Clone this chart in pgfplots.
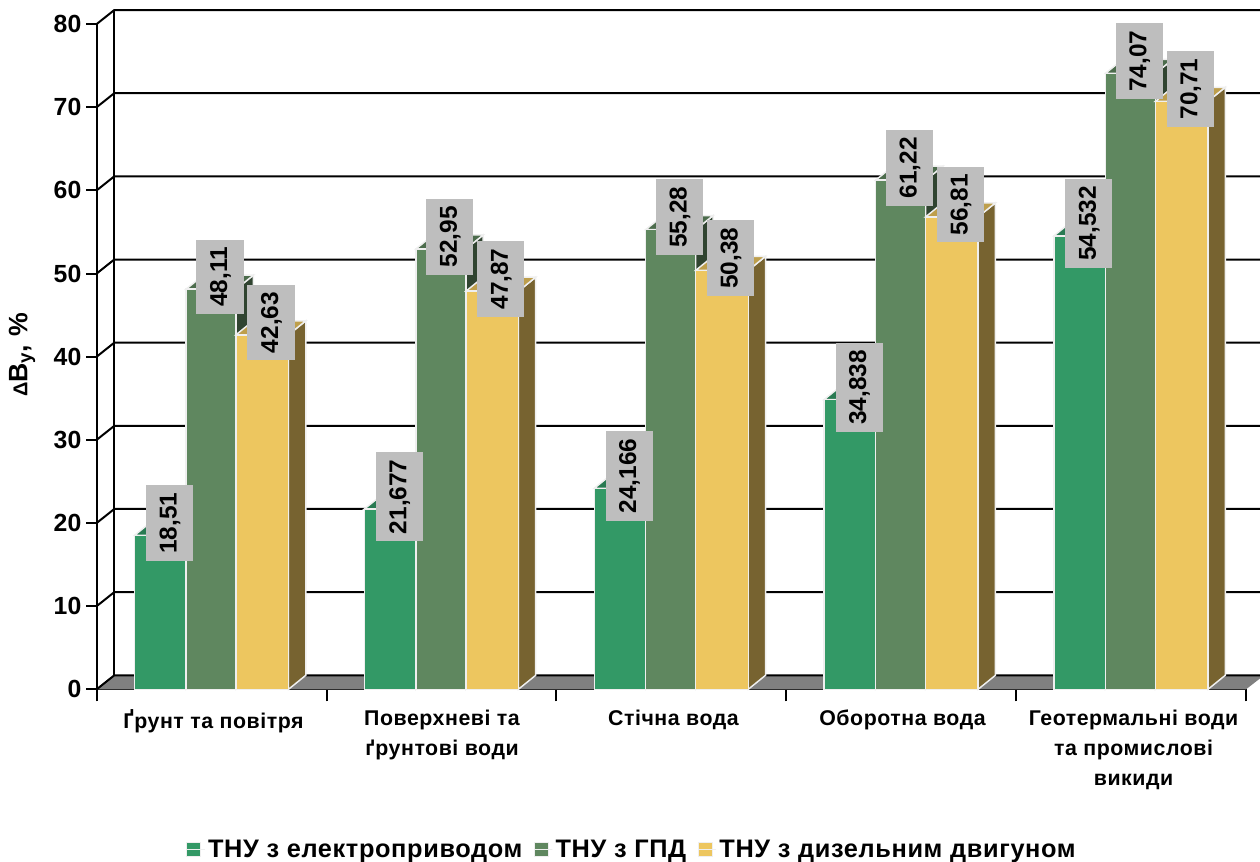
\documentclass[border=0pt]{standalone}
\usepackage{fontspec}
\usepackage{pgfplots}
\pgfplotsset{compat=1.18}
\setmainfont{Liberation Sans}
\newfontfamily\lsfont{Liberation Sans}[LetterSpace=2.5]
\definecolor{cA}{HTML}{339966}\definecolor{cAt}{HTML}{297A52}\definecolor{cAs}{HTML}{1A4D33}
\definecolor{cB}{HTML}{5F875F}\definecolor{cBt}{HTML}{4C6C4C}\definecolor{cBs}{HTML}{304430}
\definecolor{cC}{HTML}{EDC65F}\definecolor{cCt}{HTML}{BE9F4C}\definecolor{cCs}{HTML}{776330}
\definecolor{edge}{HTML}{EFEFEF}\definecolor{boxg}{HTML}{BEBEBE}\definecolor{floorg}{HTML}{808080}
% x left, x right, value, top colour, side colour
\newcommand\barfaces[5]{%
  \pgfmathsetmacro\xa{#1+17.3}\pgfmathsetmacro\xb{#2+17.3}\pgfmathsetmacro\vb{#3+1.684}%
  \addplot[fill=#5,draw=edge,line width=1.1pt,forget plot] coordinates {(#2,0)(\xb,1.684)(\xb,\vb)(#2,#3)} -- cycle;
  \addplot[fill=#4,draw=edge,line width=1.1pt,forget plot] coordinates {(#1,#3)(\xa,\vb)(\xb,\vb)(#2,#3)} -- cycle;
}
\newcommand\gridl[2]{\addplot[black,line width=1.5pt,forget plot] coordinates {(96.7,#1)(114.3,#2)(1264,#2)};}
\begin{document}
\begin{tikzpicture}
\path[use as bounding box] (-72.525pt,-128.775pt) rectangle (872.475pt,516.975pt);
\clip (-72.525pt,-128.775pt) rectangle (872.475pt,516.975pt);
\begin{axis}[
  scale only axis, width=862pt, height=498.96pt,
  xmin=96.7, xmax=1246, ymin=0, ymax=80,
  clip=false, axis lines=left, axis line style={-,black,line width=1.5pt},
  tick align=outside,
  ytick={0,10,20,30,40,50,60,70,80},
  major tick length=8pt,
  tick style={black,line width=1.5pt},
  major x tick style={draw=none},
  xtick={213.5,442,673.5,902.5,1133.5},
  minor xtick={96.7,326.56,556.42,786.28,1016.14,1246},
  minor tick length=9pt,
  minor tick style={black,line width=1.5pt},
  xticklabels={Ґрунт та повітря,{Поверхневі та\\ґрунтові води},Стічна вода,Оборотна вода,{Геотермальні води\\та промислові\\викиди}},
  xticklabel style={align=center,font=\lsfont\bfseries\fontsize{16}{22.5}\selectfont,yshift=-3.7pt},
  yticklabel style={font=\bfseries\fontsize{18.6}{18.6}\selectfont},
  /pgf/number format/assume math mode=true,
  every axis y label/.style={at={(axis cs:22,40.2)},rotate=90,anchor=center},
  ylabel={\lsfont\bfseries\fontsize{20}{20}\selectfont{\fontsize{15}{15}\selectfont Δ}B\textsubscript{у}, \%},
  legend image code/.code={\path[#1] (0pt,-5pt) rectangle (10.5pt,5.5pt);\path (0pt,0pt) -- (13.5pt,0pt);},
  legend columns=3,
  legend style={at={(axis cs:186,-19.3)},anchor=west,draw=none,fill=none,inner sep=0pt,
    font=\lsfont\bfseries\fontsize{19}{19}\selectfont,
    /tikz/every even column/.append style={column sep=6.5pt}},
]
% floor and walls
\addplot[fill=floorg,draw=none,forget plot] coordinates {(96.7,0)(114.3,1.684)(1264,1.684)(1246,0)} -- cycle;
\gridl{0}{1.684}\gridl{10}{11.684}\gridl{20}{21.684}\gridl{30}{31.684}\gridl{40}{41.684}
\gridl{50}{51.684}\gridl{60}{61.684}\gridl{70}{71.684}\gridl{80}{81.684}
\addplot[black,line width=1.5pt,forget plot] coordinates {(114.3,1.684)(114.3,81.684)};
% series 1
\barfaces{134.5}{186}{18.51}{cAt}{cAs}
\barfaces{364.36}{415.86}{21.677}{cAt}{cAs}
\barfaces{594.22}{645.72}{24.166}{cAt}{cAs}
\barfaces{824.08}{875.58}{34.838}{cAt}{cAs}
\barfaces{1053.94}{1105.44}{54.532}{cAt}{cAs}
\addplot[ybar,bar width=51.5,bar shift=0pt,fill=cA,draw=edge,line width=1.1pt,forget plot]
  coordinates {(160.25,18.51)(390.11,21.677)(619.97,24.166)(849.83,34.838)(1079.69,54.532)};
% series 2
\barfaces{186}{236}{48.11}{cBt}{cBs}
\barfaces{415.86}{465.86}{52.95}{cBt}{cBs}
\barfaces{645.72}{695.72}{55.28}{cBt}{cBs}
\barfaces{875.58}{925.58}{61.22}{cBt}{cBs}
\barfaces{1105.44}{1155.44}{74.07}{cBt}{cBs}
\addplot[ybar,bar width=50,bar shift=0pt,fill=cB,draw=edge,line width=1.1pt,forget plot]
  coordinates {(211,48.11)(440.86,52.95)(670.72,55.28)(900.58,61.22)(1130.44,74.07)};
% series 3
\barfaces{236}{288.5}{42.63}{cCt}{cCs}
\barfaces{465.86}{518.36}{47.87}{cCt}{cCs}
\barfaces{695.72}{748.22}{50.38}{cCt}{cCs}
\barfaces{925.58}{978.08}{56.81}{cCt}{cCs}
\barfaces{1155.44}{1207.94}{70.71}{cCt}{cCs}
\addplot[ybar,bar width=52.5,bar shift=0pt,fill=cC,draw=edge,line width=1.1pt,forget plot]
  coordinates {(262.25,42.63)(492.11,47.87)(721.97,50.38)(951.83,56.81)(1181.69,70.71)};
% value labels
\pgfplotsset{vallab/.style={draw=none,forget plot,point meta=explicit symbolic,nodes near coords,
  nodes near coords style={anchor=center,yshift=9.2pt,rotate=90,fill=boxg,text=black,
    font=\bfseries\fontsize{18.3}{18.3}\selectfont,text height=13.5pt,text depth=3pt,inner ysep=9.4pt,inner xsep=5.5pt}}}
\addplot[vallab] table[meta=lab] {
x y lab
169.5 18.51 18,51
399.4 21.677 21,677
629.2 24.166 24,166
859.1 34.838 34,838
1088.9 54.532 54,532
};
\addplot[vallab] table[meta=lab] {
x y lab
220 48.11 48,11
449.9 52.95 52,95
679.7 55.28 55,28
909.6 61.22 61,22
1139.4 74.07 74,07
};
\addplot[vallab] table[meta=lab] {
x y lab
271 42.63 42,63
500.9 47.87 47,87
730.7 50.38 50,38
960.6 56.81 56,81
1190.4 70.71 70,71
};
\addlegendimage{fill=cA,draw=edge,line width=.9pt}\addlegendentry{ТНУ з електроприводом}
\addlegendimage{fill=cB,draw=edge,line width=.9pt}\addlegendentry{ТНУ з ГПД}
\addlegendimage{fill=cC,draw=edge,line width=.9pt}\addlegendentry{ТНУ з дизельним двигуном}
\end{axis}
\end{tikzpicture}
\end{document}
